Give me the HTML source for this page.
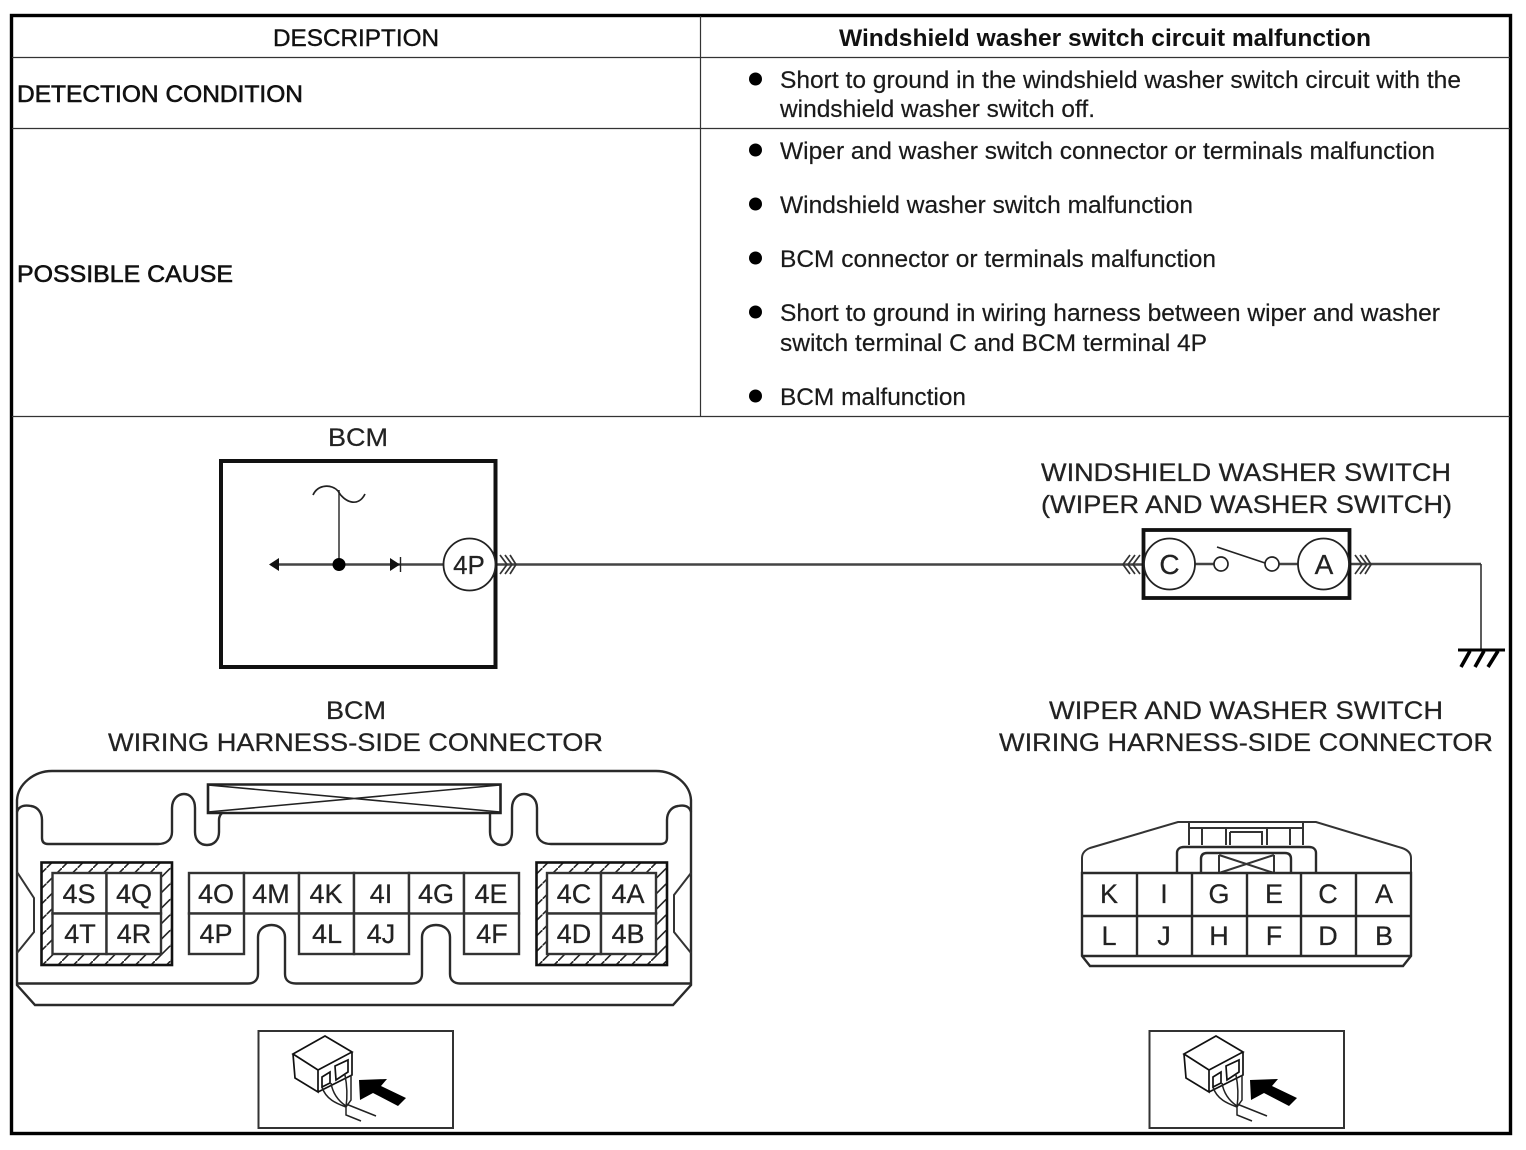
<!DOCTYPE html>
<html><head><meta charset="utf-8"><style>
html,body{margin:0;padding:0;background:#fff}
svg{display:block}
text{font-family:"Liberation Sans",sans-serif;fill:#111}
.t{font-size:24px;fill:#1a1a1a;stroke:#1a1a1a;stroke-width:.2}
.d{font-size:24px;fill:#111;stroke:#111;stroke-width:.4}
.b{font-size:24px;font-weight:bold}
.s{font-size:24px;stroke:#111;stroke-width:.6}
.l{font-size:25px;fill:#222;stroke:#222;stroke-width:.25}
.c{font-size:27px;text-anchor:middle;fill:#222;stroke:#222;stroke-width:.25}
.n{fill:none;stroke:#333;stroke-width:2}
.g{fill:none;stroke:#2a2a2a;stroke-width:2.4}
</style></head><body>
<svg width="1526" height="1150" viewBox="0 0 1526 1150" xmlns="http://www.w3.org/2000/svg">
<defs>
<pattern id="h" patternUnits="userSpaceOnUse" width="15.5" height="15.5">
<path d="M0 15.5L15.5 0" stroke="#222" stroke-width="1.6"/>
</pattern>
</defs>
<rect width="1526" height="1150" fill="#fff"/>
<!-- table -->
<rect x="11.5" y="15.5" width="1499" height="1118" fill="none" stroke="#000" stroke-width="3.4"/>
<path d="M12 57.5H1510M12 128.5H1510M12 416.5H1510M700.5 16V416" fill="none" stroke="#333" stroke-width="1.2"/>
<text class="d" x="273" y="46" textLength="166" lengthAdjust="spacingAndGlyphs">DESCRIPTION</text>
<text class="b" x="839" y="46" textLength="532" lengthAdjust="spacingAndGlyphs">Windshield washer switch circuit malfunction</text>
<text class="s" x="17" y="102" textLength="286" lengthAdjust="spacingAndGlyphs">DETECTION CONDITION</text>
<text class="s" x="17" y="282" textLength="216" lengthAdjust="spacingAndGlyphs">POSSIBLE CAUSE</text>
<g fill="#000"><circle cx="755.500" cy="79" r="6.500"/><circle cx="755.500" cy="150" r="6.500"/><circle cx="755.500" cy="204" r="6.500"/><circle cx="755.500" cy="258" r="6.500"/><circle cx="755.500" cy="312" r="6.500"/><circle cx="755.500" cy="396" r="6.500"/></g>
<text class="t" x="780" y="88" textLength="681" lengthAdjust="spacingAndGlyphs">Short to ground in the windshield washer switch circuit with the</text>
<text class="t" x="780" y="117" textLength="315" lengthAdjust="spacingAndGlyphs">windshield washer switch off.</text>
<text class="t" x="780" y="159" textLength="655" lengthAdjust="spacingAndGlyphs">Wiper and washer switch connector or terminals malfunction</text>
<text class="t" x="780" y="213" textLength="413" lengthAdjust="spacingAndGlyphs">Windshield washer switch malfunction</text>
<text class="t" x="780" y="267" textLength="436" lengthAdjust="spacingAndGlyphs">BCM connector or terminals malfunction</text>
<text class="t" x="780" y="321" textLength="660" lengthAdjust="spacingAndGlyphs">Short to ground in wiring harness between wiper and washer</text>
<text class="t" x="780" y="351" textLength="427" lengthAdjust="spacingAndGlyphs">switch terminal C and BCM terminal 4P</text>
<text class="t" x="780" y="405" textLength="186" lengthAdjust="spacingAndGlyphs">BCM malfunction</text>
<!-- titles -->
<text class="l" x="328" y="446" textLength="60" lengthAdjust="spacingAndGlyphs">BCM</text>
<text class="l" x="1041" y="481" textLength="410" lengthAdjust="spacingAndGlyphs">WINDSHIELD WASHER SWITCH</text>
<text class="l" x="1041" y="513" textLength="411" lengthAdjust="spacingAndGlyphs">(WIPER AND WASHER SWITCH)</text>
<text class="l" x="326" y="719" textLength="60" lengthAdjust="spacingAndGlyphs">BCM</text>
<text class="l" x="108" y="751" textLength="495" lengthAdjust="spacingAndGlyphs">WIRING HARNESS-SIDE CONNECTOR</text>
<text class="l" x="1049" y="719" textLength="394" lengthAdjust="spacingAndGlyphs">WIPER AND WASHER SWITCH</text>
<text class="l" x="999" y="751" textLength="494" lengthAdjust="spacingAndGlyphs">WIRING HARNESS-SIDE CONNECTOR</text>
<!-- BCM schematic -->
<path d="M276 564.500H444M496 564.500H1144" stroke="#444" stroke-width="2.400" fill="none"/>
<rect x="221" y="461" width="274.500" height="206" fill="none" stroke="#111" stroke-width="4"/>
<path d="M339 490V564" stroke="#222" stroke-width="1.400" fill="none"/>
<path d="M313 495C318 484 332 484 338 491C344 502 358 508 365 494" fill="none" stroke="#222" stroke-width="1.700"/>
<path d="M269 564.500L279 558V571Z" fill="#111"/>
<circle cx="339" cy="564.500" r="6.500" fill="#000"/>
<path d="M390 558L400 564.500L390 571Z" fill="#111"/>
<path d="M400.500 557V572" stroke="#222" stroke-width="1.400"/>
<circle cx="469.500" cy="564.500" r="26" fill="#fff" stroke="#222" stroke-width="1.800"/>
<text class="c" x="469" y="574" style="font-size:26px">4P</text>
<path d="M500 555L507 564.500L500 574M505 555L512 564.500L505 574M510 555L516 564.500L510 574" fill="none" stroke="#333" stroke-width="1.700"/>
<!-- switch -->
<path d="M1195 564H1214M1279 564H1298" stroke="#444" stroke-width="2.400"/>
<path d="M1350 564H1481" fill="none" stroke="#444" stroke-width="2.400"/>
<path d="M1481 564V650" fill="none" stroke="#333" stroke-width="1.600"/>
<rect x="1143.500" y="530" width="206" height="68" fill="none" stroke="#111" stroke-width="3.800"/>
<circle cx="1169.500" cy="564" r="25.500" fill="#fff" stroke="#222" stroke-width="1.800"/>
<circle cx="1323.500" cy="564" r="25.500" fill="#fff" stroke="#222" stroke-width="1.800"/>
<text class="c" x="1169.500" y="574" style="font-size:28px">C</text>
<text class="c" x="1324" y="574" style="font-size:28px">A</text>
<circle cx="1221" cy="564" r="7" fill="#fff" stroke="#222" stroke-width="1.700"/>
<circle cx="1272" cy="564" r="7" fill="#fff" stroke="#222" stroke-width="1.700"/>
<path d="M1217 547L1265 563" stroke="#222" stroke-width="1.700"/>
<path d="M1130 555L1123 564.500L1130 574M1135 555L1128 564.500L1135 574M1140 555L1133 564.500L1140 574" fill="none" stroke="#333" stroke-width="1.700"/>
<path d="M1355 555L1362 564.500L1355 574M1360 555L1367 564.500L1360 574M1365 555L1371 564.500L1365 574" fill="none" stroke="#333" stroke-width="1.700"/>
<path d="M1458 650H1505" stroke="#000" stroke-width="3"/>
<path d="M1470 651L1461 667M1484 651L1475 667M1498 651L1488 667" stroke="#000" stroke-width="3.600"/>
<!-- BCM connector -->
<path class="g" d="M17 800C18 784 34 771 52 771H656C674 771 690 784 691 800V985L673 1005H35L17 985Z"/>
<path class="g" d="M17 812C19 805 26 805 31 806C38 807 42 813 42 820V838C42 842 44 844 48 844H158C166 844 172 840 172 832V808C172 799 178 794 184 794C190 794 195 799 195 808V832C195 840 200 845 207 845C214 845 219 840 219 832V820C219 817 220 815 222 813"/>
<path class="g" d="M490 813C490 815 490 817 490 820V832C490 840 495 845 502 845C508 845 512 840 512 832V808C512 799 518 794 524 794C531 794 537 799 537 808V832C537 840 543 844 551 844H660C665 844 667 842 667 838V820C667 813 671 807 678 806C683 805 689 805 691 812"/>
<path d="M208 784.500H500.500V813H208Z" fill="#fff" stroke="#222" stroke-width="2.600"/>
<path d="M208 785L500 812M208 812L500 785" stroke="#222" stroke-width="1.600"/>
<path class="g" d="M17 983.500H248C254 983.500 258 980 258 974V937C258 930 264 925 271.500 925C279 925 285 930 285 937V974C285 980 289 983.500 296 983.500H412C418 983.500 422 980 422 974V937C422 930 428 925 436 925C444 925 450 930 450 937V974C450 980 454 983.500 460 983.500H691"/>
<path class="n" d="M17 872L34 898V932L17 953M691 873L674 895V932L691 953"/>
<rect x="41.500" y="862.500" width="130.500" height="102.500" fill="url(#h)" stroke="#111" stroke-width="2.600"/>
<rect x="536.500" y="862.500" width="130.500" height="102.500" fill="url(#h)" stroke="#111" stroke-width="2.600"/>
<g fill="#fff" stroke="#333" stroke-width="2.400">
<rect x="52.500" y="873" width="54" height="40.500"/><rect x="106.500" y="873" width="54.500" height="40.500"/>
<rect x="52.500" y="913.500" width="54" height="40.500"/><rect x="106.500" y="913.500" width="54.500" height="40.500"/>
<rect x="547" y="873" width="54" height="40.500"/><rect x="601" y="873" width="55" height="40.500"/>
<rect x="547" y="913.500" width="54" height="40.500"/><rect x="601" y="913.500" width="55" height="40.500"/>
<rect x="189" y="873" width="55" height="40.500"/><rect x="244" y="873" width="55" height="40.500"/><rect x="299" y="873" width="55" height="40.500"/><rect x="354" y="873" width="55" height="40.500"/><rect x="409" y="873" width="55" height="40.500"/><rect x="464" y="873" width="55" height="40.500"/>
<rect x="189" y="913.500" width="55" height="40.500"/><rect x="299" y="913.500" width="55" height="40.500"/><rect x="354" y="913.500" width="55" height="40.500"/><rect x="464" y="913.500" width="55" height="40.500"/>
</g>
<g>
<text class="c" x="79" y="903">4S</text><text class="c" x="134" y="903">4Q</text>
<text class="c" x="80" y="943">4T</text><text class="c" x="134" y="943">4R</text>
<text class="c" x="216" y="903">4O</text><text class="c" x="271" y="903">4M</text><text class="c" x="326" y="903">4K</text><text class="c" x="381" y="903">4I</text><text class="c" x="436" y="903">4G</text><text class="c" x="491" y="903">4E</text>
<text class="c" x="216" y="943">4P</text><text class="c" x="327" y="943">4L</text><text class="c" x="381" y="943">4J</text><text class="c" x="492" y="943">4F</text>
<text class="c" x="574" y="903">4C</text><text class="c" x="628" y="903">4A</text>
<text class="c" x="574" y="943">4D</text><text class="c" x="628" y="943">4B</text>
</g>
<!-- wiper connector -->
<path class="n" d="M1082 873V858C1082 853 1085 850 1090 848L1178 822H1316L1402 848C1408 850 1411 853 1411 858V873"/>
<path class="n" d="M1189 822V845M1303 822V845M1189 828H1303M1202 828V845M1226 828V845M1290 828V845M1267 828V845M1230 832H1262V845M1230 832V845"/>
<path class="g" d="M1177 873V853C1177 849 1180 847 1184 847H1309C1313 847 1316 849 1316 853V873"/>
<path class="g" d="M1201 873V859C1201 855 1203 853 1207 853H1285C1289 853 1291 855 1291 859V873"/>
<path class="n" d="M1219 873V855M1274 873V855M1219 855L1274 873M1274 855L1219 873"/>
<path class="g" d="M1082 873H1411V956L1403 966H1090L1082 956Z"/>
<path class="g" d="M1082 916H1411M1082 956H1411M1137 873V956M1192 873V956M1247 873V956M1301 873V956M1356 873V956"/>
<g style="font-size:27px">
<text class="c" x="1109" y="903">K</text><text class="c" x="1164" y="903">I</text><text class="c" x="1219" y="903">G</text><text class="c" x="1274" y="903">E</text><text class="c" x="1328" y="903">C</text><text class="c" x="1384" y="903">A</text>
<text class="c" x="1109" y="945">L</text><text class="c" x="1164" y="945">J</text><text class="c" x="1219" y="945">H</text><text class="c" x="1274" y="945">F</text><text class="c" x="1328" y="945">D</text><text class="c" x="1384" y="945">B</text>
</g>
<!-- icons -->
<g>
<rect x="258.500" y="1031" width="194.500" height="97" fill="none" stroke="#333" stroke-width="2"/>
<path d="M293 1054L325 1036L352 1052L318 1070ZM293 1054L295 1078L318 1092V1070M318 1092L352 1075V1052" fill="#fff" stroke="#111" stroke-width="1.700"/>
<path d="M322 1077L330 1072V1083L322 1087ZM335 1066L348 1060V1072L336 1080Z" fill="none" stroke="#111" stroke-width="1.700"/>
<path d="M331 1083C333 1095 340 1102 346 1106M345 1075C348 1090 347 1100 346 1107M351 1075V1100L346 1107M322 1087C326 1100 338 1104 346 1107M346 1104L376 1116M346 1107V1115L361 1121" fill="none" stroke="#222" stroke-width="1.500"/>
<path d="M359 1080L387 1079L381 1086L406 1098L398 1106L373 1093L360 1100Z" fill="#000"/>
</g>
<g transform="translate(891 0)">
<rect x="258.500" y="1031" width="194.500" height="97" fill="none" stroke="#333" stroke-width="2"/>
<path d="M293 1054L325 1036L352 1052L318 1070ZM293 1054L295 1078L318 1092V1070M318 1092L352 1075V1052" fill="#fff" stroke="#111" stroke-width="1.700"/>
<path d="M322 1077L330 1072V1083L322 1087ZM335 1066L348 1060V1072L336 1080Z" fill="none" stroke="#111" stroke-width="1.700"/>
<path d="M331 1083C333 1095 340 1102 346 1106M345 1075C348 1090 347 1100 346 1107M351 1075V1100L346 1107M322 1087C326 1100 338 1104 346 1107M346 1104L376 1116M346 1107V1115L361 1121" fill="none" stroke="#222" stroke-width="1.500"/>
<path d="M359 1080L387 1079L381 1086L406 1098L398 1106L373 1093L360 1100Z" fill="#000"/>
</g>
</svg>
</body></html>
